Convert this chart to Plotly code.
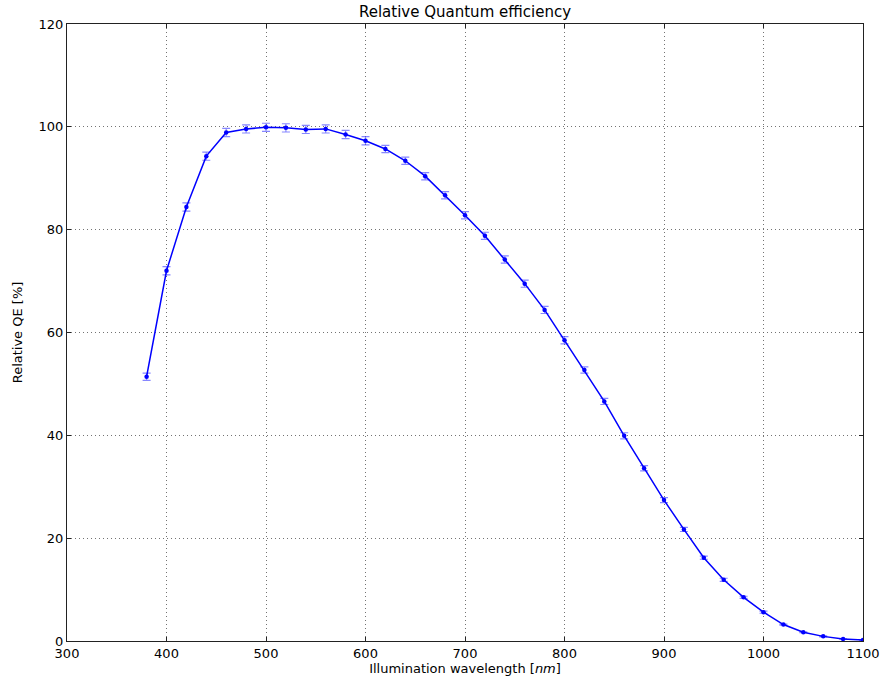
import plotly.graph_objects as go

# Measured relative quantum efficiency vs. illumination wavelength
wavelength_nm = [380, 400, 420, 440, 460, 480, 500, 520, 540, 560, 580, 600,
                 620, 640, 660, 680, 700, 720, 740, 760, 780, 800, 820, 840,
                 860, 880, 900, 920, 940, 960, 980, 1000, 1020, 1040, 1060,
                 1080, 1100]
relative_qe = [51.4, 72.0, 84.4, 94.3, 98.9, 99.6, 99.9, 99.8, 99.5, 99.6,
               98.5, 97.3, 95.7, 93.4, 90.4, 86.7, 82.8, 78.8, 74.2, 69.5,
               64.4, 58.5, 52.7, 46.6, 39.9, 33.6, 27.4, 21.7, 16.2, 11.9,
               8.5, 5.6, 3.2, 1.7, 0.9, 0.4, 0.2]
qe_error = [0.7, 0.8, 0.8, 0.8, 0.8, 0.8, 0.8, 0.8, 0.8, 0.8,
            0.8, 0.8, 0.7, 0.7, 0.7, 0.7, 0.7, 0.7, 0.7, 0.7,
            0.7, 0.7, 0.6, 0.6, 0.6, 0.5, 0.5, 0.4, 0.3, 0.3,
            0.2, 0.2, 0.1, 0.1, 0.1, 0.05, 0.05]

x_ticks = [300, 400, 500, 600, 700, 800, 900, 1000, 1100]
y_ticks = [0, 20, 40, 60, 80, 100, 120]

fig = go.Figure()
fig.add_trace(go.Scatter(
    x=wavelength_nm,
    y=relative_qe,
    mode="lines+markers",
    line=dict(color="#0000ff", width=1.5),
    marker=dict(color="#0000ff", size=4.5),
    error_y=dict(type="data", array=qe_error, visible=True,
                 color="rgba(70,70,255,0.65)", thickness=1.2, width=4),
    showlegend=False,
))

axis_common = dict(
    showline=True, linecolor="#222222", linewidth=1.2, mirror="ticks",
    ticks="inside", ticklen=4, tickcolor="#222222",
    showgrid=True, gridcolor="rgba(90,90,90,0.85)", griddash="1px,3px",
    gridwidth=1, zeroline=False, automargin=False,
    tickfont=dict(family="DejaVu Sans", size=13, color="black"),
)

fig.update_layout(
    width=892, height=680,
    margin=dict(l=67, r=29, t=24, b=39),
    paper_bgcolor="white", plot_bgcolor="white",
    font=dict(family="DejaVu Sans", color="black"),
    title=dict(text="Relative Quantum efficiency", x=0.5, xanchor="center",
               xref="paper", y=0.982, yanchor="middle",
               font=dict(size=15, color="black")),
    xaxis=dict(range=[300, 1100], tickvals=x_ticks,
               title=dict(text="Illumination wavelength [<i>nm</i>]",
                          font=dict(size=13), standoff=0),
               **axis_common),
    yaxis=dict(range=[0, 120], tickvals=y_ticks,
               title=dict(text="Relative QE [%]", font=dict(size=13),
                          standoff=12),
               **axis_common),
)

fig.write_html("out.html")
